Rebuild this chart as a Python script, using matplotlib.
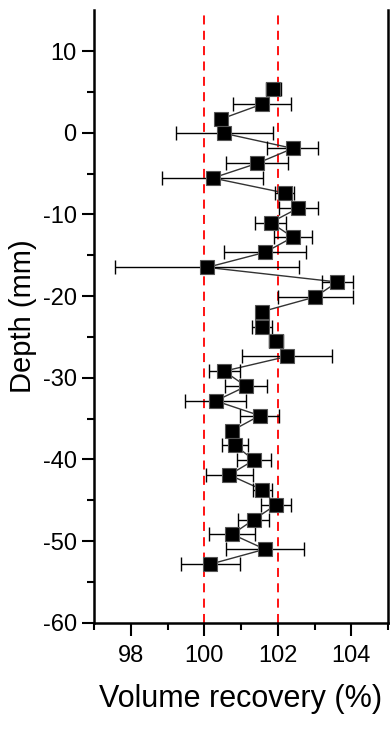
import matplotlib.pyplot as plt
import numpy as np

plt.rcParams['font.family'] = ['Liberation Sans', 'DejaVu Sans']
plt.rcParams['axes.unicode_minus'] = False

# Depth (mm) of each measurement
depth = [5.35, 3.51, 1.68, -0.08, -1.92, -3.75, -5.55, -7.38, -9.22, -11.0,
         -12.8, -14.65, -16.49, -18.28, -20.11, -21.9, -23.75, -25.5, -27.4,
         -29.2, -31.05, -32.84, -34.64, -36.47, -38.27, -40.1, -41.9, -43.73,
         -45.57, -47.37, -49.17, -51.0, -52.84]

# Volume recovery (%)
recovery = [101.88, 101.58, 100.46, 100.54, 102.41, 101.44, 100.23, 102.19,
            102.56, 101.81, 102.41, 101.65, 100.08, 103.62, 103.02, 101.58,
            101.58, 101.95, 102.25, 100.54, 101.14, 100.31, 101.51, 100.76,
            100.84, 101.35, 100.68, 101.58, 101.95, 101.35, 100.76, 101.65,
            100.16]

# Horizontal error (+/-, %)
rec_err = [0.21, 0.79, 0.15, 1.32, 0.69, 0.85, 1.38, 0.26, 0.53, 0.42, 0.52,
           1.11, 2.50, 0.42, 1.02, 0.12, 0.27, 0.20, 1.22, 0.42, 0.58, 0.83,
           0.53, 0.15, 0.36, 0.47, 0.64, 0.26, 0.42, 0.42, 0.63, 1.06, 0.80]

limits = [100, 102]

fig = plt.figure(figsize=(3.9, 7.3), dpi=100)
ax = fig.add_axes([0.241, 0.147, 0.754, 0.839])

for v in limits:
    ax.axvline(v, color='red', ls=(0, (5, 3.5)), lw=1.3, zorder=1)

ax.plot(recovery, depth, color='#333333', lw=1.0, zorder=2)
ax.errorbar(recovery, depth, xerr=rec_err, fmt='none', ecolor='black',
            elinewidth=1.0, capsize=5, capthick=1.0, zorder=3)
ax.plot(recovery, depth, ls='none', marker='s', ms=10, mfc='black',
        mec='#555555', mew=0.8, zorder=4)

ax.set_xlim(97, 105)
ax.set_ylim(-60, 15)
ax.set_xticks([98, 100, 102, 104])
ax.set_xticks(np.arange(97, 106, 1), minor=True)
ax.set_yticks(np.arange(-60, 11, 10))
ax.set_yticks(np.arange(-55, 15, 10), minor=True)

ax.spines['top'].set_visible(False)
for s in ['left', 'right', 'bottom']:
    ax.spines[s].set_linewidth(1.8)

ax.tick_params(which='major', direction='out', length=9, width=1.5,
               labelsize=17, right=False, top=False)
ax.tick_params(axis='x', which='major', pad=7)
ax.tick_params(which='minor', direction='out', length=5, width=1.5,
               right=False, top=False)

ax.set_xlabel('Volume recovery (%)', fontsize=22, labelpad=12)
ax.set_ylabel('Depth (mm)', fontsize=21, labelpad=4)

fig.savefig('out.png', dpi=100)
